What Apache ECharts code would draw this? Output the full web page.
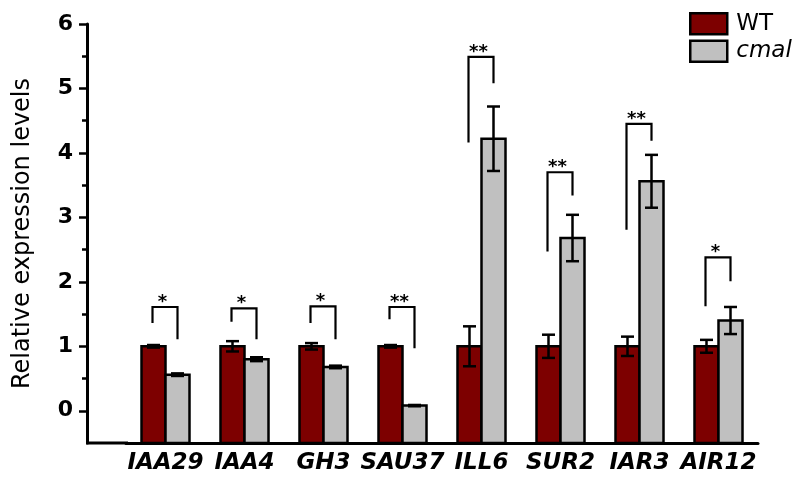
<!DOCTYPE html>
<html><head><meta charset="utf-8">
<script src="https://cdn.jsdelivr.net/npm/echarts@6/dist/echarts.min.js"></script>
<style>html,body{margin:0;padding:0;background:#fff}#c{width:794px;height:481px}</style>
</head><body><div id="c"></div>
<script>
const categories = ['IAA29','IAA4','GH3','SAU37','ILL6','SUR2','IAR3','AIR12'];
const seriesNames = ['WT','cmal'];
const wtValues = [1.0,1.0,1.0,1.0,1.0,1.0,1.0,1.0];
const wtErrors = [0.02,0.08,0.05,0.02,0.31,0.18,0.15,0.10];
const cmalValues = [0.56,0.80,0.68,0.08,4.22,2.68,3.56,1.40];
const cmalErrors = [0.02,0.03,0.02,0.01,0.50,0.36,0.41,0.21];
const sigLabels = ['*','*','*','**','**','**','**','*'];
const bracketTop = [1.61,1.59,1.62,1.61,5.49,3.70,4.45,2.38];
const bracketLeftEnd = [1.36,1.38,1.36,1.42,4.16,2.47,2.81,1.62];
const bracketRightEnd = [1.11,1.11,1.11,0.97,5.08,3.34,4.19,2.01];
const yMajorTicks = [0,1,2,3,4,5,6];
const yMinorTicks = [0.5,1.5,2.5,3.5,4.5,5.5];
const yMin = -0.5, yMax = 6;
const yTitle = 'Relative expression levels';

const FONT = 'DejaVu Sans';
const RED = '#7d0000', GRAY = '#c0c0c0';
const BAR_W = 24, LW = 2.5, CAP = 13;

function barRender(sign, color) {
  return function (params, api) {
    const v = api.value(1), e = api.value(2);
    const c = api.coord([api.value(0), v]);
    const base = api.coord([api.value(0), yMin]);
    const cx = c[0] + sign * BAR_W / 2;
    const hi = api.coord([api.value(0), v + e])[1];
    const lo = api.coord([api.value(0), v - e])[1];
    return {type: 'group', children: [
      {type: 'rect', shape: {x: cx - BAR_W / 2, y: c[1], width: BAR_W, height: base[1] - c[1]},
       style: {fill: color, stroke: '#000', lineWidth: LW}},
      {type: 'line', shape: {x1: cx, y1: hi, x2: cx, y2: lo}, style: {stroke: '#000', lineWidth: LW}},
      {type: 'line', shape: {x1: cx - CAP / 2, y1: hi, x2: cx + CAP / 2, y2: hi}, style: {stroke: '#000', lineWidth: LW}},
      {type: 'line', shape: {x1: cx - CAP / 2, y1: lo, x2: cx + CAP / 2, y2: lo}, style: {stroke: '#000', lineWidth: LW}}
    ]};
  };
}

function bracketRender(params, api) {
  const i = api.value(0);
  const t = api.coord([i, api.value(1)]);
  const l = api.coord([i, api.value(2)]);
  const r = api.coord([i, api.value(3)]);
  const xl = t[0] - BAR_W / 2 - 1, xr = t[0] + BAR_W / 2;
  return {type: 'group', children: [
    {type: 'polyline', shape: {points: [[xl, l[1]], [xl, t[1]], [xr, t[1]], [xr, r[1]]]},
     style: {stroke: '#000', lineWidth: 2.2, fill: null}},
    {type: 'text', x: t[0] - 3, y: t[1] + 4,
     style: {text: sigLabels[params.dataIndex], font: 'bold 18px "' + FONT + '"', fill: '#000', align: 'center', verticalAlign: 'bottom'}}
  ]};
}

const chart = echarts.init(document.getElementById('c'));
chart.setOption({
  animation: false,
  backgroundColor: '#fff',
  grid: {left: 126, right: 36, top: 24, bottom: 38, containLabel: false},
  legend: {
    orient: 'vertical', left: 684, top: 7, itemWidth: 37, itemHeight: 21, itemGap: 4,
    textStyle: {fontFamily: FONT, fontSize: 23, color: '#000', padding: [0, 0, 0, 4]},
    data: [
      {name: seriesNames[0], icon: 'rect', itemStyle: {color: RED, borderColor: '#000', borderWidth: LW}},
      {name: seriesNames[1], icon: 'rect', itemStyle: {color: GRAY, borderColor: '#000', borderWidth: LW},
       textStyle: {fontStyle: 'italic'}}
    ]
  },
  xAxis: {
    type: 'category', data: categories, boundaryGap: true,
    axisLine: {onZero: false, lineStyle: {color: '#000', width: 3}},
    axisTick: {inside: true, length: 4, lineStyle: {color: '#000', width: 2}},
    axisLabel: {interval: 0, margin: 9, fontFamily: FONT, fontSize: 23, fontStyle: 'italic', fontWeight: 'bold', color: '#000'},
    splitLine: {show: false}
  },
  yAxis: [
    {
      type: 'value', position: 'left', offset: 39, min: yMin, max: yMax,
      name: yTitle, nameLocation: 'middle', nameGap: 52,
      nameTextStyle: {fontFamily: FONT, fontSize: 24, color: '#000'},
      axisLine: {show: true, lineStyle: {color: '#000', width: 3}},
      axisTick: {show: true, customValues: yMajorTicks, length: 8, lineStyle: {color: '#000', width: 2.5}},
      axisLabel: {customValues: yMajorTicks, margin: 14, fontFamily: FONT, fontSize: 22, fontWeight: 'bold', color: '#000'},
      splitLine: {show: false}
    },
    {
      type: 'value', position: 'left', offset: 39, min: yMin, max: yMax,
      axisLine: {show: false},
      axisTick: {show: true, customValues: yMinorTicks, length: 5, lineStyle: {color: '#000', width: 2.5}},
      axisLabel: {show: false},
      splitLine: {show: false}
    }
  ],
  graphic: [
    {type: 'line', shape: {x1: 86, y1: 443, x2: 128, y2: 443}, style: {stroke: '#000', lineWidth: 3}, z: 10}
  ],
  series: [
    {name: seriesNames[0], type: 'custom', itemStyle: {color: RED},
     renderItem: barRender(-1, RED),
     data: categories.map((c, i) => [c, wtValues[i], wtErrors[i]])},
    {name: seriesNames[1], type: 'custom', itemStyle: {color: GRAY},
     renderItem: barRender(1, GRAY),
     data: categories.map((c, i) => [c, cmalValues[i], cmalErrors[i]])},
    {name: 'sig', type: 'custom', renderItem: bracketRender, silent: true,
     data: categories.map((c, i) => [c, bracketTop[i], bracketLeftEnd[i], bracketRightEnd[i]])}
  ]
});
</script></body></html>
